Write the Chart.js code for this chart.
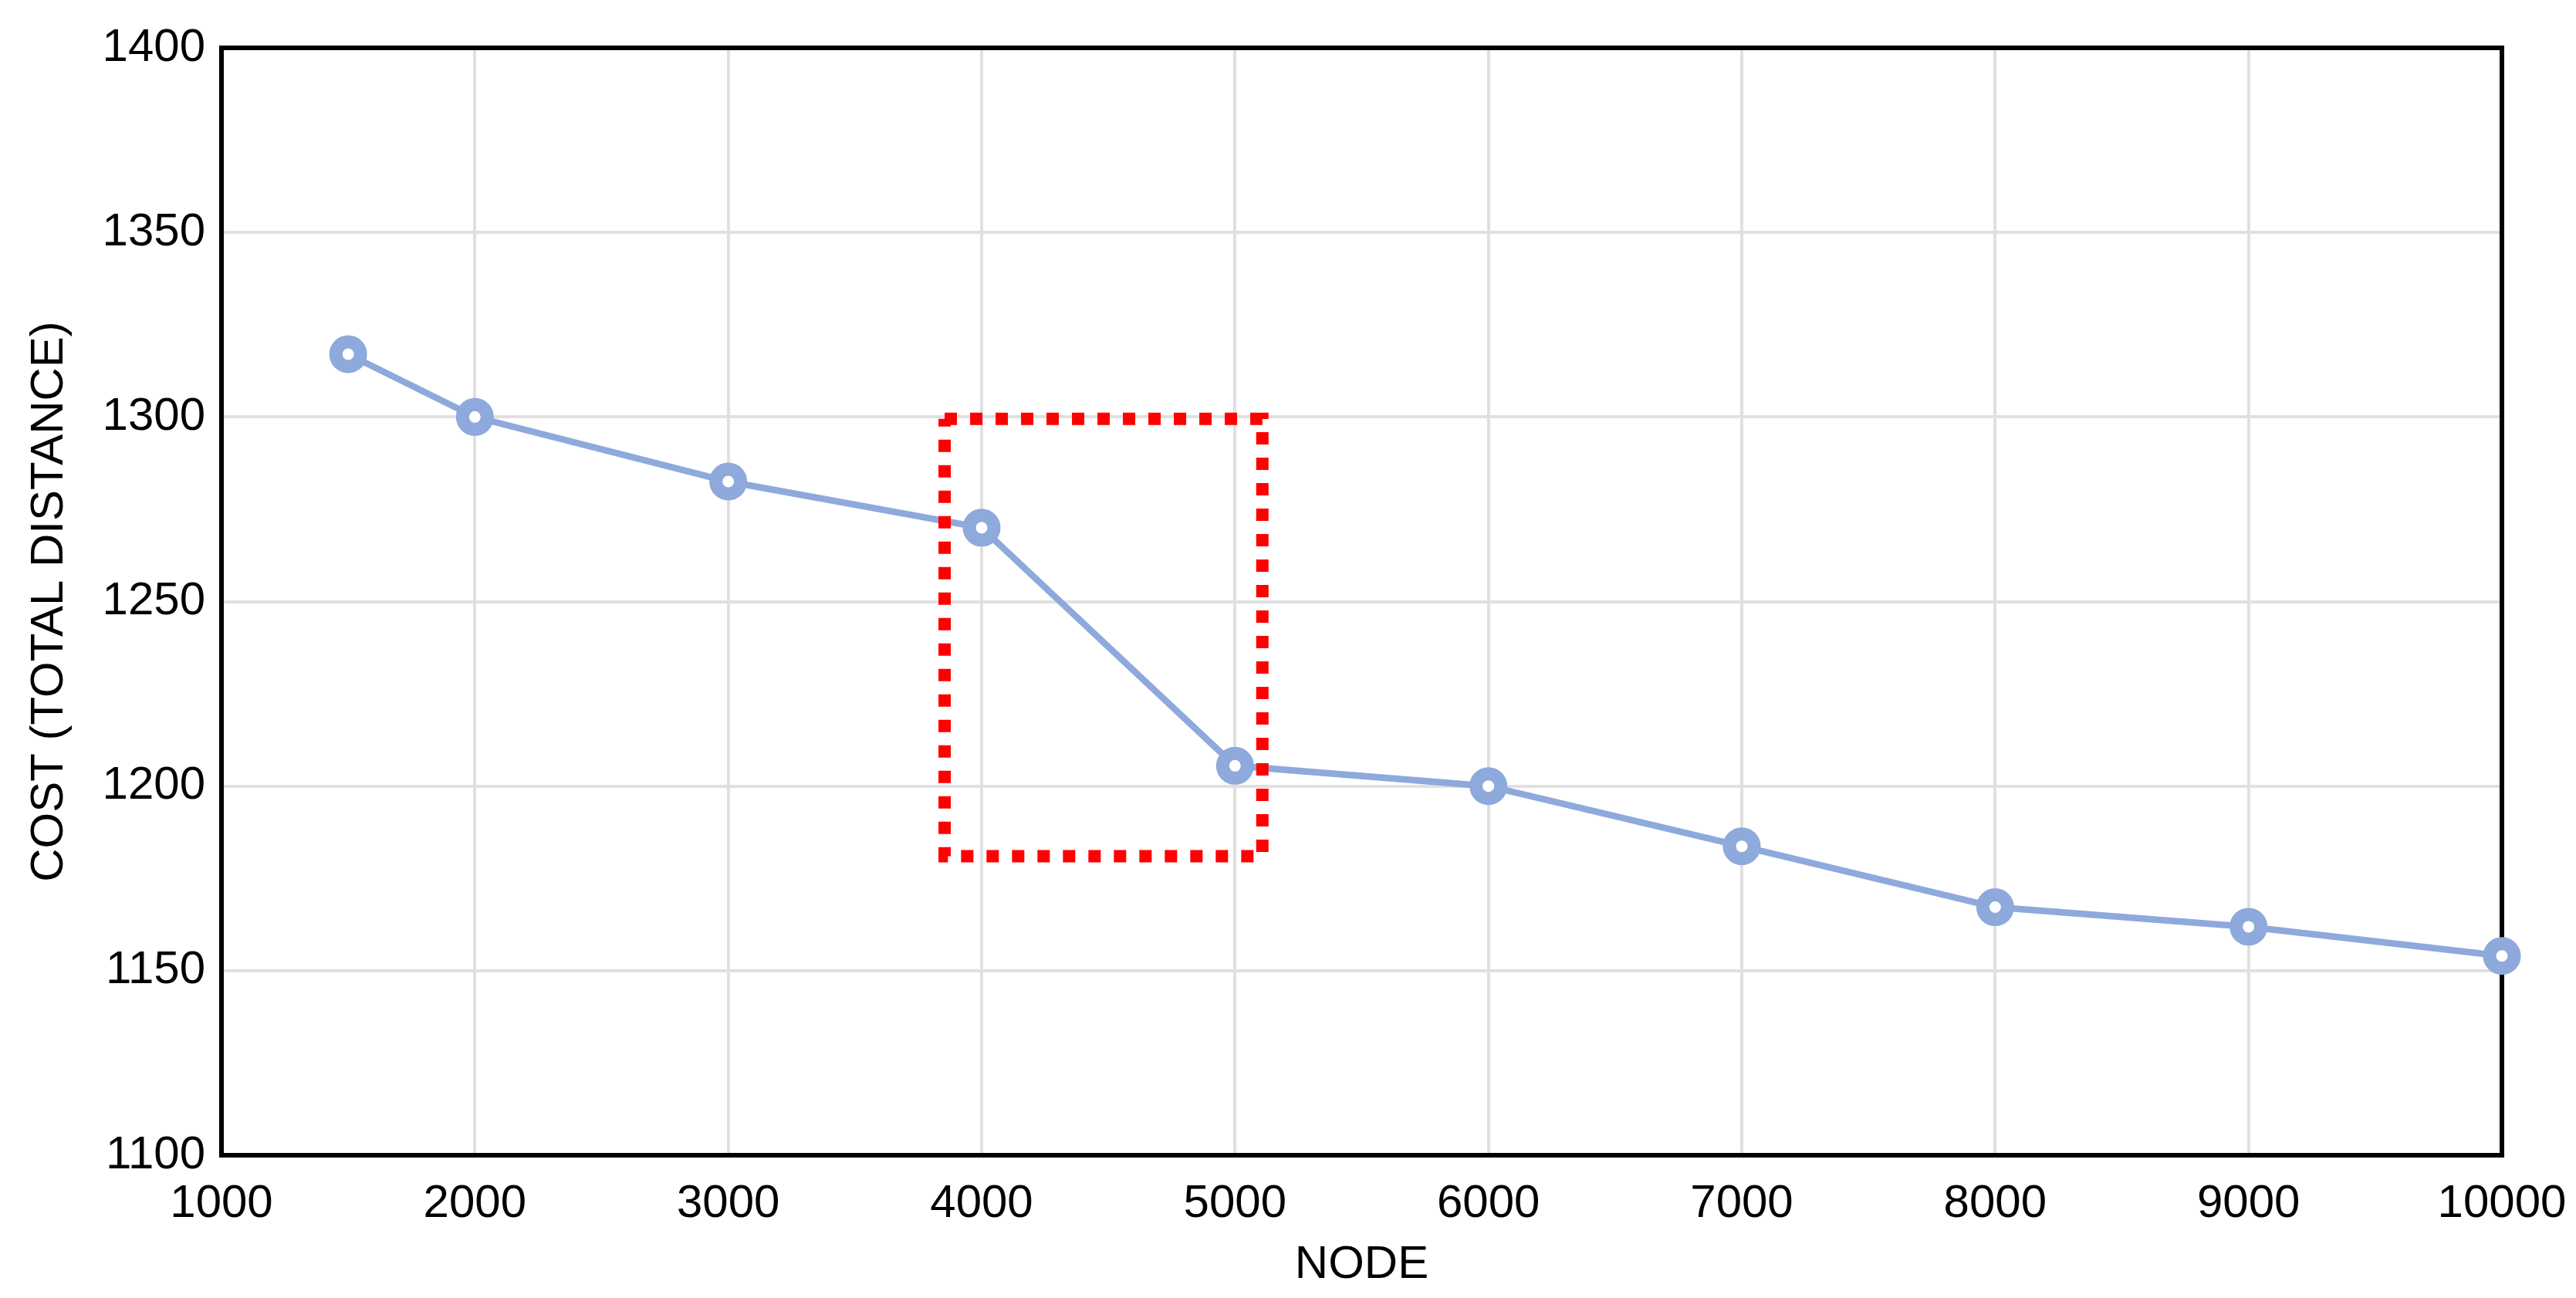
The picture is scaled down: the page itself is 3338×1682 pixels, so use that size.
<!DOCTYPE html>
<html>
<head>
<meta charset="utf-8">
<script src="https://cdn.jsdelivr.net/npm/chart.js@4"></script>
<style>
  html, body { margin: 0; padding: 0; background: #fff; }
  #wrap { width: 3338px; height: 1682px; }
</style>
</head>
<body>
<div id="wrap"><canvas id="costChart" width="3338" height="1682"></canvas></div>
<script>
// values
const nodes = [1500, 2000, 3000, 4000, 5000, 6000, 7000, 8000, 9000, 10000];
const costs = [1317, 1300, 1282.5, 1270, 1205.5, 1200, 1183.7, 1167.2, 1161.9, 1154];

// highlighted region (dotted box)
const boxNodes = [3854, 5108, 5108, 3854, 3854];
const boxCosts = [1299.5, 1299.5, 1181, 1181, 1299.5];

const xTicks = [1000, 2000, 3000, 4000, 5000, 6000, 7000, 8000, 9000, 10000];
const yTicks = [1100, 1150, 1200, 1250, 1300, 1350, 1400];

const blue = 'rgb(142, 169, 219)';
const font = { family: '"Liberation Sans", Arial, sans-serif', size: 60 };

// black frame around the plot area
const framePlugin = {
  id: 'frame',
  beforeDatasetsDraw(chart) {
    const { ctx, chartArea: a } = chart;
    ctx.save();
    ctx.strokeStyle = '#000';
    ctx.lineWidth = 6;
    ctx.strokeRect(a.left, a.top, a.right - a.left, a.bottom - a.top);
    ctx.restore();
  }
};

const ctx = document.getElementById('costChart').getContext('2d');
new Chart(ctx, {
  type: 'line',
  data: {
    datasets: [
      {
        label: 'box',
        data: boxNodes.map((x, i) => ({ x, y: boxCosts[i] })),
        borderColor: '#ff0000',
        borderWidth: 16,
        borderDash: [16, 17],
        borderCapStyle: 'butt',
        borderJoinStyle: 'miter',
        pointRadius: 0,
        fill: false,
        clip: false,
      },
      {
        label: 'Cost',
        data: nodes.map((x, i) => ({ x, y: costs[i] })),
        borderColor: blue,
        borderWidth: 8.5,
        pointRadius: 16,
        pointBorderWidth: 17,
        pointBackgroundColor: '#fff',
        pointBorderColor: blue,
        tension: 0,
        fill: false,
        clip: false,
      },
    ],
  },
  plugins: [framePlugin],
  options: {
    responsive: false,
    animation: false,
    events: [],
    layout: { padding: { left: 28, right: 96, top: 62, bottom: 7 } },
    plugins: { legend: { display: false }, tooltip: { enabled: false } },
    scales: {
      x: {
        type: 'linear',
        min: 1000,
        max: 10000,
        afterBuildTicks: (axis) => { axis.ticks = xTicks.map(v => ({ value: v })); },
        afterFit: (axis) => { axis.height = 178; axis.paddingLeft = 0; axis.paddingRight = 0; },
        grid: { color: '#e0e0e0', lineWidth: 4, drawTicks: false },
        border: { display: false },
        ticks: { color: '#000', font, padding: 27, maxRotation: 0, callback: (v) => String(v) },
        title: { display: true, text: 'NODE', color: '#000', font, padding: { top: 7, bottom: 0 } },
      },
      y: {
        min: 1100,
        max: 1400,
        afterBuildTicks: (axis) => { axis.ticks = yTicks.map(v => ({ value: v })); },
        afterFit: (axis) => { axis.width = 259; },
        grid: { color: '#e0e0e0', lineWidth: 4, drawTicks: false },
        border: { display: false },
        ticks: { color: '#000', font, padding: 21, callback: (v) => String(v) },
        title: { display: true, text: 'COST (TOTAL DISTANCE)', color: '#000', font, padding: { top: 0, bottom: 33 } },
      },
    },
  },
});
</script>
</body>
</html>
